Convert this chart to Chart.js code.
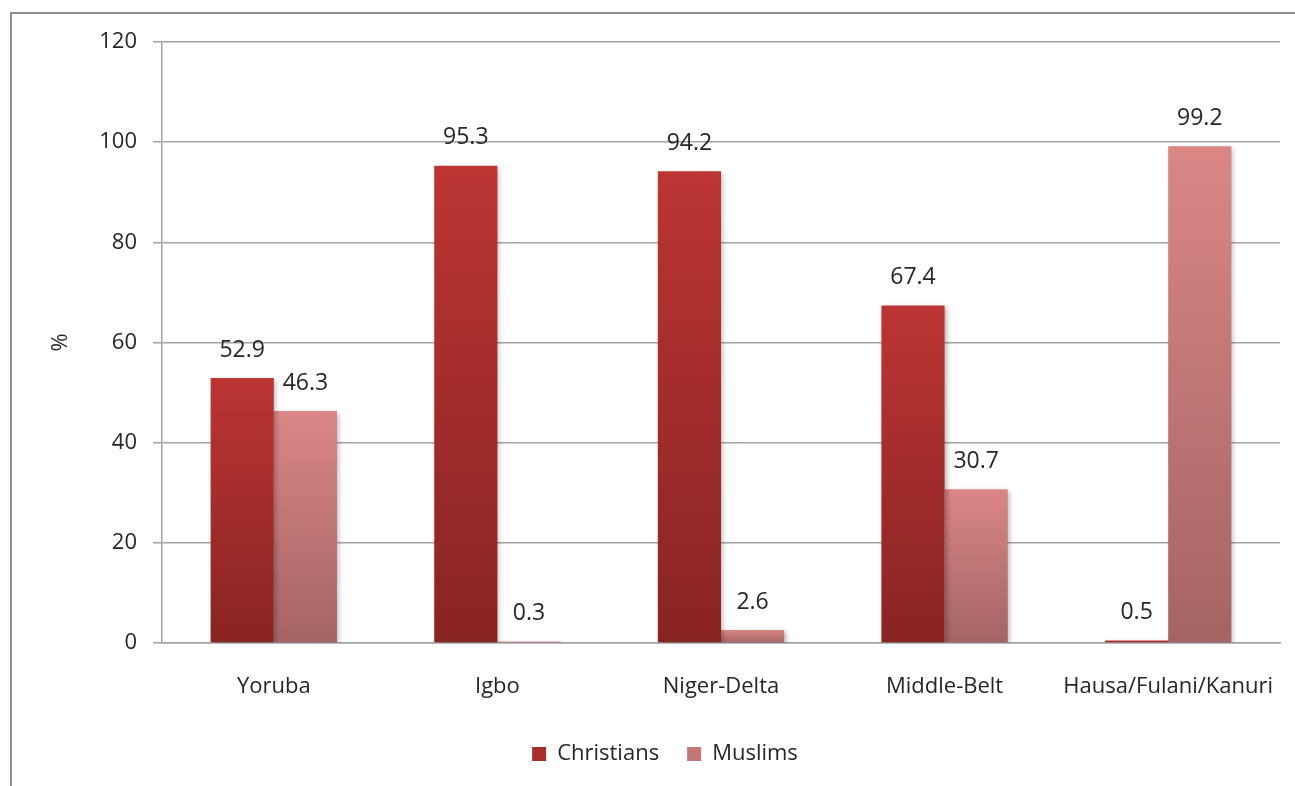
<!DOCTYPE html>
<html>
<head>
<meta charset="utf-8">
<script src="https://cdn.jsdelivr.net/npm/chart.js@4/dist/chart.umd.min.js"></script>
<style>
  body { margin: 0; background: #fff; }
  #wrap { position: relative; width: 1295px; height: 786px; overflow: hidden; }
  #frame { position: absolute; left: 10px; top: 12px; width: 1400px; height: 900px;
           border-left: 2px solid #8f8f8f; border-top: 2px solid #8f8f8f; }
  canvas { position: absolute; left: 0; top: 0; }
</style>
</head>
<body>
<div id="wrap">
  <div id="frame"></div>
  <canvas id="myChart" width="1295" height="786"></canvas>
</div>
<script>
// datos del grafico
const regiones = ['Yoruba', 'Igbo', 'Niger-Delta', 'Middle-Belt', 'Hausa/Fulani/Kanuri'];
const cristianos = [52.9, 95.3, 94.2, 67.4, 0.5];
const musulmanes = [46.3, 0.3, 2.6, 30.7, 99.2];
const ticksY = [0, 20, 40, 60, 80, 100, 120];

const fuente = '"Open Sans", "Noto Sans", sans-serif';
const colorTexto = '#262626';
const colorGrid = '#a3a3a3';

// degradado por barra, de arriba hacia la base
function degradado(arriba, abajo) {
    return (context) => {
        const chart = context.chart;
        const { ctx, chartArea, scales } = chart;
        if (!chartArea || context.raw === undefined) return arriba;
        const yTop = scales.y.getPixelForValue(context.raw);
        const yBase = scales.y.getPixelForValue(0);
        if (yBase - yTop < 1) return abajo;
        const g = ctx.createLinearGradient(0, yTop, 0, yBase);
        g.addColorStop(0, arriba);
        g.addColorStop(1, abajo);
        return g;
    };
}

// sombra suave bajo las barras
const sombraBarras = {
    id: 'sombraBarras',
    beforeDatasetDraw(chart) {
        const { ctx } = chart;
        ctx.save();
        ctx.shadowColor = 'rgba(0,0,0,0.28)';
        ctx.shadowBlur = 5;
        ctx.shadowOffsetX = 2;
        ctx.shadowOffsetY = 2;
    },
    afterDatasetDraw(chart) {
        chart.ctx.restore();
    }
};

// correr un poco la leyenda a la derecha
const moverLeyenda = {
    id: 'moverLeyenda',
    afterLayout(chart) {
        const lg = chart.legend;
        if (!lg) return;
        lg.left += 25;
        lg.right += 25;
    }
};

// etiquetas de valor sobre cada barra
const etiquetasValor = {
    id: 'etiquetasValor',
    afterDatasetsDraw(chart) {
        const { ctx } = chart;
        ctx.save();
        ctx.font = '23px ' + fuente;
        ctx.fillStyle = colorTexto;
        ctx.textAlign = 'center';
        ctx.textBaseline = 'middle';
        chart.data.datasets.forEach((ds, i) => {
            const meta = chart.getDatasetMeta(i);
            meta.data.forEach((bar, j) => {
                ctx.fillText(ds.data[j].toFixed(1), bar.x, bar.y - 28);
            });
        });
        ctx.restore();
    }
};

const ctx = document.getElementById('myChart').getContext('2d');
const config = {
    type: 'bar',
    data: {
        labels: regiones,
        datasets: [
            {
                label: 'Christians',
                data: cristianos,
                backgroundColor: degradado('#bb3533', '#882423'),
                legendColor: '#a92e2d'
            },
            {
                label: 'Muslims',
                data: musulmanes,
                backgroundColor: degradado('#da8786', '#a46464'),
                legendColor: '#c47575'
            }
        ]
    },
    options: {
        responsive: false,
        animation: false,
        layout: { padding: { top: 42, right: 15, bottom: 11, left: 0 } },
        datasets: {
            bar: { categoryPercentage: 0.565, barPercentage: 1.0, borderWidth: 0 }
        },
        scales: {
            x: {
                grid: { drawOnChartArea: false, drawTicks: true, tickLength: 29, color: 'rgba(0,0,0,0)' },
                border: { color: colorGrid, width: 1.5 },
                ticks: { color: colorTexto, font: { family: fuente, size: 22 }, padding: 2 },
                afterFit(scale) { scale.height = 72; }
            },
            y: {
                min: 0,
                max: 120,
                afterBuildTicks(scale) {
                    scale.ticks = ticksY.map(v => ({ value: v }));
                },
                afterFit(scale) { scale.width = 162; },
                grid: { color: colorGrid, lineWidth: 1.5, tickLength: 9 },
                border: { color: colorGrid, width: 1.5 },
                ticks: { color: colorTexto, font: { family: fuente, size: 22 }, padding: 16 },
                title: {
                    display: true,
                    text: '%',
                    color: colorTexto,
                    font: { family: fuente, size: 22 },
                    padding: { top: 48, bottom: 0 }
                }
            }
        },
        plugins: {
            legend: {
                position: 'bottom',
                labels: {
                    color: colorTexto,
                    font: { family: fuente, size: 22 },
                    boxWidth: 14,
                    boxHeight: 14,
                    padding: 28,
                    generateLabels(chart) {
                        return chart.data.datasets.map((ds, i) => ({
                            text: ds.label,
                            fillStyle: ds.legendColor,
                            strokeStyle: ds.legendColor,
                            lineWidth: 0,
                            datasetIndex: i,
                            fontColor: colorTexto
                        }));
                    }
                }
            },
            tooltip: { enabled: false }
        }
    },
    plugins: [sombraBarras, moverLeyenda, etiquetasValor]
};
let myChart = new Chart(ctx, config);
</script>
</body>
</html>
